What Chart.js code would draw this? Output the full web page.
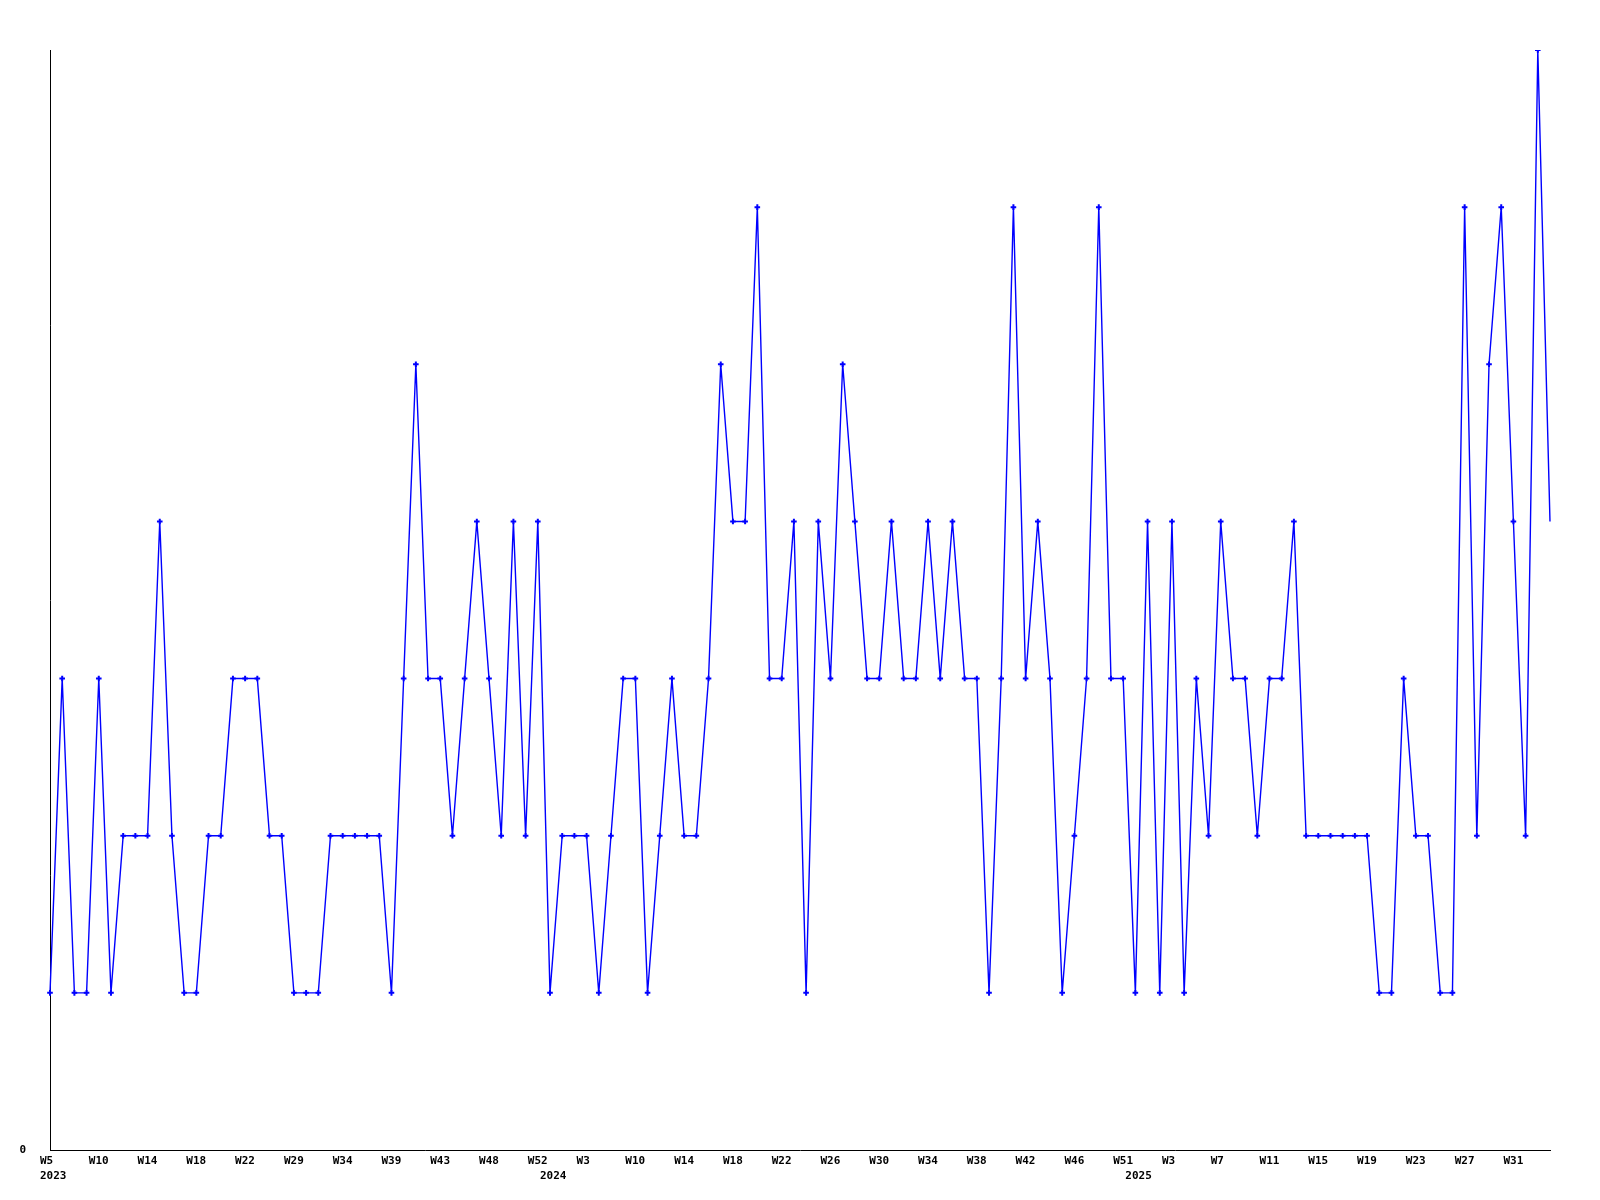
<!DOCTYPE html>
<html>
<head>
<meta charset="utf-8">
<title>Weekly count</title>
<script src="https://cdn.jsdelivr.net/npm/chart.js@4.4.1/dist/chart.umd.min.js"></script>
<style>
  html, body { margin: 0; padding: 0; background: #fff; }
  canvas { display: block; }
</style>
</head>
<body>
<canvas id="weeklyChart" width="1600" height="1200"></canvas>
<script>
// week labels (Sunday based numbering, gaps where no data)
const weeks = [
  'W5','W6','W7','W9','W10','W11','W12','W13','W14','W15',
  'W16','W17','W18','W19','W20','W21','W22','W24','W26','W27',
  'W29','W30','W31','W33','W34','W35','W37','W38','W39','W40',
  'W41','W42','W43','W45','W46','W47','W48','W49','W50','W51',
  'W52','W0','W1','W2','W3','W5','W7','W8','W10','W11',
  'W12','W13','W14','W15','W16','W17','W18','W19','W20','W21',
  'W22','W23','W24','W25','W26','W27','W28','W29','W30','W31',
  'W32','W33','W34','W35','W36','W37','W38','W39','W40','W41',
  'W42','W43','W44','W45','W46','W47','W49','W50','W51','W0',
  'W1','W2','W3','W4','W5','W6','W7','W8','W9','W10',
  'W11','W12','W13','W14','W15','W16','W17','W18','W19','W20',
  'W21','W22','W23','W24','W25','W26','W27','W28','W29','W30',
  'W31','W32','W33','W34'
];
const yearStarts = [0, 41, 89];
const yearNames = ['2023', '2024', '2025'];

const counts = [
  1,3,1,1,3,1,2,2,2,4,
  2,1,1,2,2,3,3,3,2,2,
  1,1,1,2,2,2,2,2,1,3,
  5,3,3,2,3,4,3,2,4,2,
  4,1,2,2,2,1,2,3,3,1,
  2,3,2,2,3,5,4,4,6,3,
  3,4,1,4,3,5,4,3,3,4,
  3,3,4,3,4,3,3,1,3,6,
  3,4,3,1,2,3,6,3,3,1,
  4,1,4,1,3,2,4,3,3,2,
  3,3,4,2,2,2,2,2,2,1,
  1,3,2,2,1,1,6,2,5,6,
  4,2,7,4
];

const yTicks = [0];
const labelEvery = 4;

const tickFont = { family: 'DejaVu Sans Mono', size: 11, weight: 'bold', lineHeight: '15px' };

function weekLabel(value, index) {
  const w = index % labelEvery === 0 ? weeks[index] : '';
  const y = yearStarts.indexOf(index);
  if (y >= 0) return [w, yearNames[y]];
  return w;
}

const ctx = document.getElementById('weeklyChart').getContext('2d');
new Chart(ctx, {
  type: 'line',
  data: {
    labels: weeks,
    datasets: [{
      label: 'Count',
      data: counts,
      borderColor: '#0000ff',
      backgroundColor: '#0000ff',
      borderWidth: 1.4,
      tension: 0,
      fill: false,
      pointStyle: 'cross',
      pointRadius: (c) => c.dataIndex === counts.length - 1 ? 0 : 2.8,
      pointBorderWidth: 2,
      pointBackgroundColor: '#0000ff',
      pointBorderColor: '#0000ff'
    }]
  },
  options: {
    responsive: false,
    animation: false,
    layout: { padding: { left: 0, top: 50, right: 50, bottom: 0 } },
    plugins: {
      legend: { display: false },
      tooltip: { enabled: false }
    },
    scales: {
      x: {
        type: 'category',
        offset: false,
        grid: { display: false, drawTicks: false },
        border: { display: true, color: '#000', width: 1 },
        afterFit: (scale) => { scale.height = 50; },
        ticks: {
          autoSkip: false,
          maxRotation: 0,
          minRotation: 0,
          align: 'start',
          labelOffset: -10,
          padding: 4,
          color: '#000',
          font: tickFont,
          callback: weekLabel
        }
      },
      y: {
        min: 0,
        max: 7,
        grid: { display: false, drawTicks: false },
        border: { display: true, color: '#000', width: 1 },
        afterFit: (scale) => { scale.width = 50; },
        ticks: {
          stepSize: 1,
          padding: 24,
          color: '#000',
          font: tickFont,
          callback: (v) => yTicks.includes(v) ? String(v) : ''
        }
      }
    }
  }
});
</script>
</body>
</html>
